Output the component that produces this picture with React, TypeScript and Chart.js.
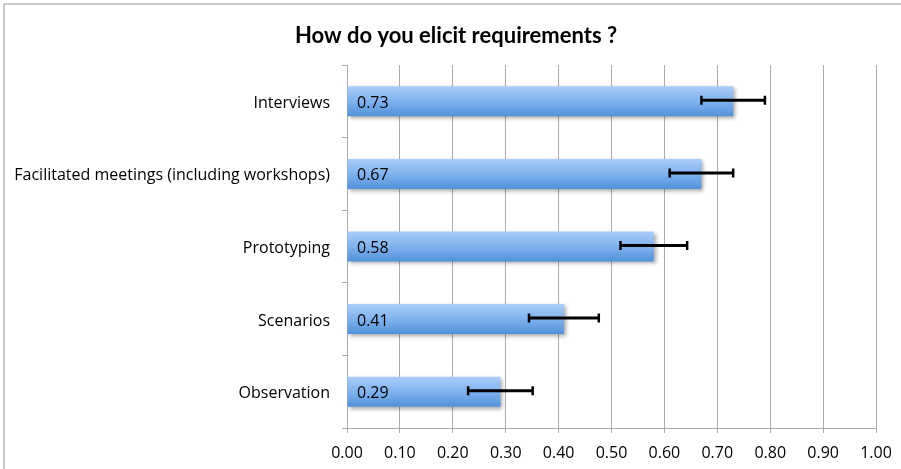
import React, { useEffect, useRef } from "react";
import { Chart, registerables } from "chart.js";

Chart.register(...registerables);

const TITLE = "How do you elicit requirements ?";
const categories = [
  "Interviews",
  "Facilitated meetings (including workshops)",
  "Prototyping",
  "Scenarios",
  "Observation",
];
const values = [0.73, 0.67, 0.58, 0.41, 0.29];
const errors = [0.06, 0.06, 0.063, 0.066, 0.061];
const xTicks = [0, 0.1, 0.2, 0.3, 0.4, 0.5, 0.6, 0.7, 0.8, 0.9, 1.0];

const FONT = "'Open Sans', Lato, sans-serif";
const TITLE_FONT = "Lato, 'Open Sans', sans-serif";
const BAR_PCT = 0.413;

export default function App() {
  const ref = useRef<HTMLCanvasElement | null>(null);

  useEffect(() => {
    document.body.style.margin = "0";
    const canvas = ref.current;
    if (!canvas) return;

    const framePlugin = {
      id: "frame",
      beforeDraw(chart: any) {
        const ctx = chart.ctx;
        ctx.save();
        ctx.fillStyle = "#ffffff";
        ctx.fillRect(0, 0, chart.width, chart.height);
        ctx.strokeStyle = "#b5b5b5";
        ctx.lineWidth = 1.5;
        ctx.beginPath();
        ctx.moveTo(4, chart.height);
        ctx.lineTo(4, 4);
        ctx.lineTo(chart.width, 4);
        ctx.stroke();
        ctx.font = `bold 22px ${TITLE_FONT}`;
        ctx.fillStyle = "#000";
        ctx.textAlign = "center";
        ctx.textBaseline = "alphabetic";
        ctx.fillText(TITLE, 456, 43);
        ctx.restore();
      },
    };

    const shadowPlugin = {
      id: "barShadow",
      beforeDatasetDraw(chart: any) {
        const ctx = chart.ctx;
        ctx.save();
        ctx.shadowColor = "rgba(0,0,0,0.35)";
        ctx.shadowBlur = 4;
        ctx.shadowOffsetX = 2;
        ctx.shadowOffsetY = 2;
      },
      afterDatasetDraw(chart: any) {
        chart.ctx.restore();
      },
    };

    const errorPlugin = {
      id: "errorBars",
      afterDatasetsDraw(chart: any) {
        const ctx = chart.ctx;
        const xs = chart.scales.x;
        const ys = chart.scales.y;
        ctx.save();
        ctx.font = `16px ${FONT}`;
        ctx.fillStyle = "#000";
        ctx.textAlign = "left";
        ctx.textBaseline = "middle";
        values.forEach((v, i) => {
          const y = ys.getPixelForValue(i);
          ctx.fillText(v.toFixed(2), xs.getPixelForValue(0) + 10, y + 2);
        });
        ctx.strokeStyle = "#000";
        ctx.lineCap = "butt";
        values.forEach((v, i) => {
          const y = ys.getPixelForValue(i) - 1;
          const x1 = xs.getPixelForValue(v - errors[i]);
          const x2 = xs.getPixelForValue(v + errors[i]);
          ctx.lineWidth = 3;
          ctx.beginPath();
          ctx.moveTo(x1, y);
          ctx.lineTo(x2, y);
          ctx.stroke();
          ctx.lineWidth = 2.5;
          ctx.beginPath();
          ctx.moveTo(x1, y - 4.5);
          ctx.lineTo(x1, y + 4.5);
          ctx.moveTo(x2, y - 4.5);
          ctx.lineTo(x2, y + 4.5);
          ctx.stroke();
        });
        ctx.restore();
      },
    };

    const chart = new Chart(canvas, {
      type: "bar",
      data: {
        labels: categories,
        datasets: [
          {
            data: values,
            borderWidth: 0,
            barPercentage: BAR_PCT,
            categoryPercentage: 1,
            backgroundColor: (c: any) => {
              const ch = c.chart;
              const ys = ch.scales && ch.scales.y;
              if (!ys || c.dataIndex === undefined) return "#7aaeea";
              const yc = ys.getPixelForValue(c.dataIndex);
              const h = (ys.height / categories.length) * BAR_PCT;
              if (!isFinite(yc) || !isFinite(h) || h <= 0) return "#7aaeea";
              const g = ch.ctx.createLinearGradient(0, yc - h / 2, 0, yc + h / 2);
              g.addColorStop(0, "#aacdf9");
              g.addColorStop(0.5, "#80b2ee");
              g.addColorStop(1, "#5291da");
              return g;
            },
          },
        ],
      },
      options: {
        indexAxis: "y",
        responsive: false,
        animation: false,
        layout: { padding: { top: 65, right: 25, left: 0, bottom: 0 } },
        plugins: {
          legend: { display: false },
          title: { display: false },
          tooltip: { enabled: false },
        },
        scales: {
          x: {
            min: 0,
            max: 1,
            afterBuildTicks: (scale: any) => {
              scale.ticks = xTicks.map((v) => ({ value: v }));
            },
            ticks: {
              callback: (v: any) => Number(v).toFixed(2),
              font: { family: FONT, size: 16 },
              color: "#000",
              padding: 11,
              maxRotation: 0,
              autoSkip: false,
            },
            grid: {
              color: "#ababab",
              lineWidth: 1,
              drawTicks: true,
              tickLength: 5,
            },
            border: { color: "#ababab", width: 1 },
            afterFit: (scale: any) => {
              scale.height = 41;
              scale.paddingRight = 0;
              scale.paddingLeft = 0;
            },
          },
          y: {
            offset: true,
            ticks: {
              font: { family: FONT, size: 16 },
              color: "#000",
              padding: 12,
              labelOffset: 2,
            },
            grid: {
              offset: true,
              drawOnChartArea: false,
              drawTicks: true,
              tickLength: 5,
              color: "#ababab",
            },
            border: { color: "#ababab", width: 1 },
            afterFit: (scale: any) => {
              scale.width = 347;
            },
          },
        },
      },
      plugins: [framePlugin, shadowPlugin, errorPlugin],
    } as any);

    return () => chart.destroy();
  }, []);

  return (
    <div style={{ position: "absolute", left: 0, top: 0, width: 901, height: 469 }}>
      <canvas ref={ref} width={901} height={469} />
    </div>
  );
}
